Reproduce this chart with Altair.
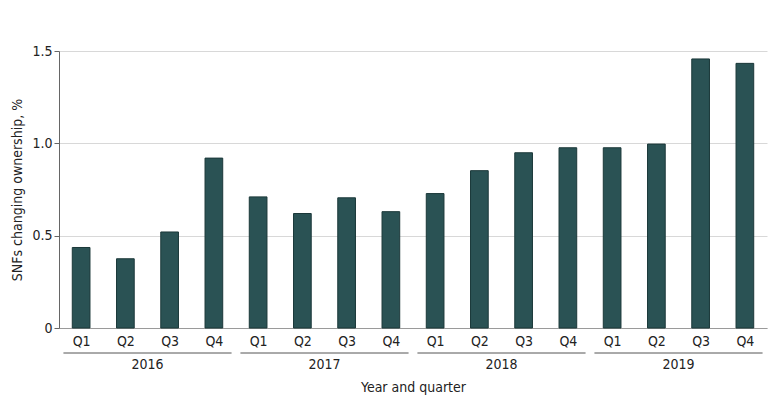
import altair as alt
import pandas as pd

years = ["2016", "2017", "2018", "2019"]
quarters = ["Q1", "Q2", "Q3", "Q4"]
values = [0.436, 0.375, 0.52, 0.92,
          0.71, 0.62, 0.705, 0.63,
          0.728, 0.852, 0.949, 0.976,
          0.976, 0.996, 1.457, 1.433]

rows = []
for i, v in enumerate(values):
    rows.append({"idx": i, "year": years[i // 4], "quarter": quarters[i % 4],
                 "value": v, "base": 0.0, "x0": i - 0.2, "x1": i + 0.2})
df = pd.DataFrame(rows)

yr = []
for j, y in enumerate(years):
    yr.append({"year": y, "mid": j * 4 + 1.5, "start": j * 4 - 0.4, "end": j * 4 + 3.4})
ydf = pd.DataFrame(yr)

W, H = 708, 277
FONT = "DejaVu Sans Condensed"
TXT = "#222222"
FS = 14

xscale = alt.Scale(domain=[-0.5, 15.5], nice=False, zero=False)
yscale = alt.Scale(domain=[0, 1.5], nice=False)

bars = alt.Chart(df).mark_bar(color="#2a5254", stroke="#1b3839", strokeWidth=1).encode(
    x=alt.X("x0:Q", scale=xscale,
            axis=alt.Axis(values=list(range(16)),
                          labelExpr="['Q1','Q2','Q3','Q4'][datum.value % 4]",
                          title="Year and quarter", titlePadding=32,
                          titleFont=FONT, titleFontSize=FS, titleFontWeight="normal",
                          titleColor=TXT, labelFont=FONT, labelFontSize=FS,
                          labelColor=TXT, ticks=False, grid=False,
                          domainColor="#9a9a9a", labelPadding=6)),
    x2="x1:Q",
    y=alt.Y("value:Q", scale=yscale,
            axis=alt.Axis(values=[0, 0.5, 1.0, 1.5],
                          labelExpr="datum.value == 0 ? '0' : format(datum.value, '.1f')",
                          title="SNFs changing ownership, %", titlePadding=7,
                          titleFont=FONT, titleFontSize=FS, titleFontWeight="normal",
                          titleColor=TXT, labelFont=FONT, labelFontSize=FS,
                          labelColor=TXT, tickSize=5, tickColor="#666666",
                          domainColor="#666666", gridColor="#d8d8d8",
                          labelPadding=2)),
    y2="base:Q",
)

lines = alt.Chart(ydf).mark_rule(color="#555555", strokeWidth=1).encode(
    x=alt.X("start:Q", scale=xscale),
    x2="end:Q",
    y=alt.value(H + 25),
)

ylabels = alt.Chart(ydf).mark_text(font=FONT, fontSize=FS, color=TXT, baseline="middle").encode(
    x=alt.X("mid:Q", scale=xscale),
    y=alt.value(H + 37),
    text="year:N",
)

chart = alt.layer(bars, lines, ylabels).properties(
    width=W, height=H,
    padding={"left": 2, "top": 36, "right": 5, "bottom": 5},
).configure_view(stroke=None).configure_axisY(gridDash=[]).configure_axisX(grid=False)

chart.save("out.html", embed_options={"renderer": "svg", "actions": False})
